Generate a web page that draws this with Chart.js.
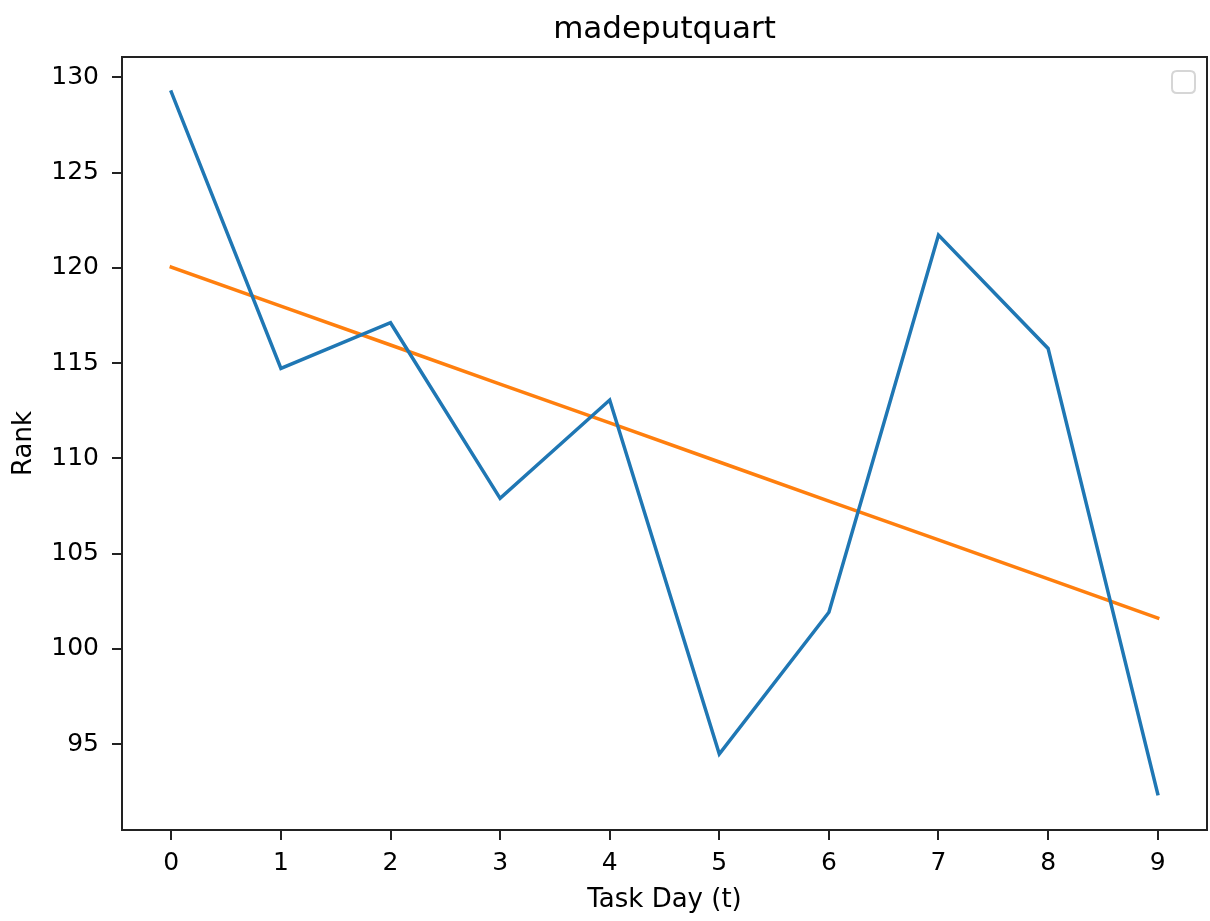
<!DOCTYPE html>
<html>
<head>
<meta charset="utf-8">
<script src="https://cdn.jsdelivr.net/npm/chart.js@4.4.1/dist/chart.umd.min.js"></script>
<style>
  html, body { margin: 0; padding: 0; background: #fff; }
  #wrap { width: 1210px; height: 921px; }
</style>
</head>
<body>
<div id="wrap"><canvas id="c" width="1210" height="921"></canvas></div>
<script>
const chartTitle = 'madeputquart';
const xLabel = 'Task Day (t)';
const yLabel = 'Rank';
const days = [0, 1, 2, 3, 4, 5, 6, 7, 8, 9];
const rankValues = [129.23, 114.72, 117.12, 107.90, 113.06, 94.48, 101.92, 121.72, 115.77, 92.40];
const trendValues = [120.04, 117.99, 115.95, 113.90, 111.86, 109.81, 107.76, 105.72, 103.67, 101.62];
const xTicks = [0, 1, 2, 3, 4, 5, 6, 7, 8, 9];
const yTicks = [95, 100, 105, 110, 115, 120, 125, 130];

const FONT = "'DejaVu Sans', sans-serif";
const AXIS_COLOR = '#222222';

const framePlugin = {
  id: 'frame',
  afterDatasetsDraw(chart) {
    const { ctx, chartArea: a } = chart;
    ctx.save();
    ctx.strokeStyle = AXIS_COLOR;
    ctx.lineWidth = 2;
    ctx.strokeRect(a.left, a.top, a.right - a.left, a.bottom - a.top);
    // empty legend frame (matplotlib legend with no handles)
    const w = 23, h = 22, x = a.right - 35, y = a.top + 14, r = 5;
    ctx.beginPath();
    ctx.moveTo(x + r, y);
    ctx.lineTo(x + w - r, y);
    ctx.quadraticCurveTo(x + w, y, x + w, y + r);
    ctx.lineTo(x + w, y + h - r);
    ctx.quadraticCurveTo(x + w, y + h, x + w - r, y + h);
    ctx.lineTo(x + r, y + h);
    ctx.quadraticCurveTo(x, y + h, x, y + h - r);
    ctx.lineTo(x, y + r);
    ctx.quadraticCurveTo(x, y, x + r, y);
    ctx.closePath();
    ctx.fillStyle = 'rgba(255,255,255,0.8)';
    ctx.fill();
    ctx.strokeStyle = '#d6d6d6';
    ctx.lineWidth = 2;
    ctx.stroke();
    ctx.restore();
  }
};

new Chart(document.getElementById('c'), {
  type: 'line',
  data: {
    datasets: [
      {
        label: 'rank',
        data: days.map((d, i) => ({ x: d, y: rankValues[i] })),
        borderColor: '#1f77b4',
        borderWidth: 3.5,
        borderCapStyle: 'square',
        pointRadius: 0,
        tension: 0,
        fill: false
      },
      {
        label: 'trend',
        data: days.map((d, i) => ({ x: d, y: trendValues[i] })),
        borderColor: '#ff7f0e',
        borderWidth: 3.5,
        borderCapStyle: 'square',
        pointRadius: 0,
        tension: 0,
        fill: false
      }
    ]
  },
  options: {
    responsive: false,
    devicePixelRatio: 1,
    animation: false,
    events: [],
    layout: { padding: { left: 0, right: 3, top: 0, bottom: 0 } },
    plugins: {
      legend: { display: false },
      tooltip: { enabled: false },
      title: {
        display: true,
        text: chartTitle,
        fullSize: false,
        color: '#000',
        font: { family: FONT, size: 31, weight: 'normal' },
        padding: { top: 11, bottom: 8.8 }
      }
    },
    scales: {
      x: {
        type: 'linear',
        min: -0.45,
        max: 9.45,
        afterBuildTicks(scale) { scale.ticks = xTicks.map(v => ({ value: v })); },
        afterFit(scale) { scale.height = 91; },
        ticks: {
          color: '#000',
          font: { family: FONT, size: 25 },
          padding: 8,
          maxRotation: 0,
          autoSkip: false,
          callback: v => String(v)
        },
        grid: {
          display: true,
          drawOnChartArea: false,
          drawTicks: true,
          tickLength: 10,
          color: AXIS_COLOR,
          lineWidth: 2
        },
        border: { display: true, color: AXIS_COLOR, width: 2 },
        title: {
          display: true,
          text: xLabel,
          color: '#000',
          font: { family: FONT, size: 26 },
          padding: { top: 0, bottom: 5 }
        }
      },
      y: {
        type: 'linear',
        min: 90.49,
        max: 131.07,
        afterBuildTicks(scale) { scale.ticks = yTicks.map(v => ({ value: v })); },
        afterFit(scale) { scale.width = 122; },
        ticks: {
          color: '#000',
          font: { family: FONT, size: 25 },
          padding: 13,
          autoSkip: false,
          callback: v => String(v)
        },
        grid: {
          display: true,
          drawOnChartArea: false,
          drawTicks: true,
          tickLength: 10,
          color: AXIS_COLOR,
          lineWidth: 2
        },
        border: { display: true, color: AXIS_COLOR, width: 2 },
        title: {
          display: true,
          text: yLabel,
          color: '#000',
          font: { family: FONT, size: 26 },
          padding: { top: 9, bottom: 0 }
        }
      }
    }
  },
  plugins: [framePlugin]
});
</script>
</body>
</html>
